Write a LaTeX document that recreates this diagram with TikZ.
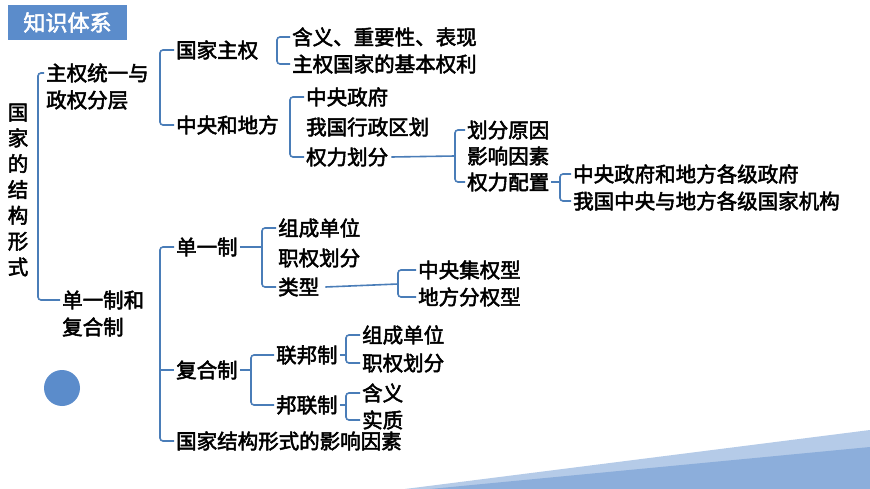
\documentclass[tikz,border=0pt]{standalone}
\usepackage{fontspec}
\newfontfamily\cjk[AutoFakeBold=2.5]{Noto Sans CJK SC}
\begin{document}
\begin{tikzpicture}[x=1pt,y=-1pt,
  t/.style={anchor=west,inner sep=0pt,font=\cjk\bfseries\fontsize{20.5}{25.8}\selectfont},
  br/.style={draw=brc,line width=1.6pt,rounded corners=3pt}]
\definecolor{brc}{HTML}{4A7DB8}
\definecolor{hd}{HTML}{5B8CCB}
\useasboundingbox (0,0) rectangle (870,489);
\fill[white] (0,0) rectangle (870,489);
\fill[hd!45] (405,489) -- (870,430) -- (870,489) -- cycle;
\fill[hd!70] (430,489) -- (870,447) -- (870,489) -- cycle;
\node[fill=hd,minimum width=119pt,minimum height=35pt,inner sep=0pt,font=\cjk\bfseries\fontsize{22}{24}\selectfont,text=white] (hdr) at (67.5,22.5) {知识体系};
\fill[hd] (62,388) circle (18);
\node[t,anchor=center,align=center] (root) at (18,190) {国\\家\\的\\结\\构\\形\\式};
\node[t] (a1) at (46,73) {主权统一与};
\node[t] (a1b) at (46,100) {政权分层};
\node[t] (a2) at (62,300) {单一制和};
\node[t] (a2b) at (62,327) {复合制};
\draw[br] ([xshift=-2]a1.west) -- (38,73) -- (38,300) -- ([xshift=-2]a2.west);
% upper
\node[t] (b1) at (176,50) {国家主权};
\node[t] (b2) at (176,125) {中央和地方};
\draw[br] ([xshift=-2]b1.west) -| (160,87) |- ([xshift=-2]b2.west);
\coordinate (j1) at (160,87);
\node[t] (c1) at (292,37) {含义、重要性、表现};
\node[t] (c2) at (292,64) {主权国家的基本权利};
\draw[br] ([xshift=-2]c1.west) -| (277,50) |- ([xshift=-2]c2.west);
\node[t] (d1) at (306,97) {中央政府};
\node[t] (d2) at (306,127) {我国行政区划};
\node[t] (d3) at (306,157) {权力划分};
\draw[br] ([xshift=-2]d1.west) -| (290,127) |- ([xshift=-2]d3.west);
\node[t] (e1) at (467,130) {划分原因};
\node[t] (e2) at (467,156) {影响因素};
\node[t] (e3) at (467,182) {权力配置};
\coordinate (ej) at (455,156);
\draw[br] ([xshift=3]d3.east) -- (ej);
\draw[br] ([xshift=-2]e1.west) -| (ej) |- ([xshift=-2]e3.west);
\node[t] (f1) at (573,174) {中央政府和地方各级政府};
\node[t] (f2) at (573,201) {我国中央与地方各级国家机构};
\coordinate (fj) at (560,188);
\draw[br] ([xshift=2]e3.east) -- (fj |- e3.east);
\draw[br] ([xshift=-2]f1.west) -| (fj) |- ([xshift=-2]f2.west);
% lower
\node[t] (g1) at (176,247) {单一制};
\node[t] (g2) at (176,370) {复合制};
\node[t] (g3) at (176,441) {国家结构形式的影响因素};
\draw[br] ([xshift=-2]g1.west) -| (160,340) |- ([xshift=-2]g3.west);
\draw[br] (160,370) -- ([xshift=-2]g2.west);
\node[t] (h1) at (278,228) {组成单位};
\node[t] (h2) at (278,258) {职权划分};
\node[t] (h3) at (278,287) {类型};
\draw[br] ([xshift=-2]h1.west) -| (262,258) |- ([xshift=-2]h3.west);
\draw[br] ([xshift=2]g1.east) -- (262,247);
\node[t] (i1) at (418,270) {中央集权型};
\node[t] (i2) at (418,297) {地方分权型};
\coordinate (ij) at (398,284);
\draw[br] ([xshift=6]h3.east) -- (ij);
\draw[br] ([xshift=-2]i1.west) -| (ij) |- ([xshift=-2]i2.west);
\node[t] (k1) at (276,355) {联邦制};
\node[t] (k2) at (276,405) {邦联制};
\draw[br] ([xshift=-2]k1.west) -| (251,380) |- ([xshift=-2]k2.west);
\draw[br] ([xshift=2]g2.east) -- (251,370);
\node[t] (l1) at (362,335) {组成单位};
\node[t] (l2) at (362,363) {职权划分};
\draw[br] ([xshift=-2]l1.west) -| (346,349) |- ([xshift=-2]l2.west);
\draw[br] ([xshift=2]k1.east) -- (346,355);
\node[t] (m1) at (362,393) {含义};
\node[t] (m2) at (362,420) {实质};
\draw[br] ([xshift=-2]m1.west) -| (346,406) |- ([xshift=-2]m2.west);
\draw[br] ([xshift=2]k2.east) -- (346,405);
\end{tikzpicture}
\end{document}
